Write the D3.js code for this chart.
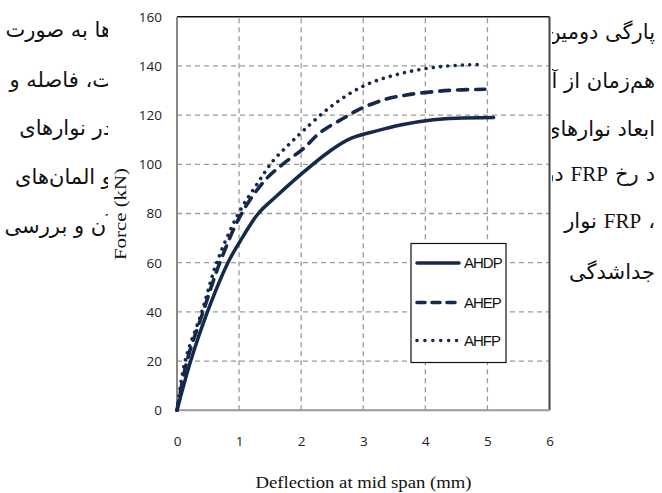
<!DOCTYPE html>
<html><head><meta charset="utf-8">
<script src="https://cdn.jsdelivr.net/npm/d3@7"></script>
<style>
html,body{margin:0;padding:0;background:#fff;}
svg{display:block;}
</style></head>
<body>
<script>
// ---- data ----
const xTicks = [0,1,2,3,4,5,6];
const yTicks = [0,20,40,60,80,100,120,140,160];
const seriesNames = ["AHDP","AHEP","AHFP"];
const AHDP = [[0,0],[0.22,20],[0.49,40],[0.82,60],[1.0,68],[1.31,80],[1.6,87],[2.0,96],[2.47,105.5],[2.8,110.5],[3.2,113.5],[3.6,116],[4.1,118],[4.5,118.7],[5.1,119]];
const AHEP = [[0,0],[0.16,20],[0.42,40],[0.69,60],[1.04,80],[1.42,93.6],[1.7,100],[2.04,106.5],[2.3,112.8],[2.68,118.7],[2.95,122.5],[3.33,126.2],[3.7,128.2],[4.13,129.5],[4.5,130.2],[4.96,130.5]];
const AHFP = [[0,0],[0.13,20],[0.40,40],[0.64,60],[0.99,80],[1.29,92],[1.55,101.5],[1.8,108],[2.04,113.8],[2.47,123.3],[3.0,131.8],[3.59,136.8],[4.24,139.7],[4.86,140.6]];
const xTitle = "Deflection at mid span (mm)";
const yTitle = "Force (kN)";
const leftLines = ["ها به صورت","ت، فاصله و","در نوارهای","و المان‌های","آن و بررسی"];
// right column: fragments listed from right to left
const rightLines = [["پارگی دومین مرحله"],["هم‌زمان از آن"],["ابعاد نوارهای"],["د","رخ","FRP","در"],["،","FRP","نوار"],["جداشدگی"]];

const W=662,H=493;
const svg=d3.select("body").append("svg").attr("width",W).attr("height",H);
const col="#15294a";

// Persian surrounding text
const arFont="'DejaVu Sans', sans-serif";
const latFont="'Liberation Serif', serif";
const leftY=[37,87,135,184,233];
svg.selectAll("text.lt").data(leftLines).join("text").attr("class","lt")
  .attr("x",112).attr("y",(d,i)=>leftY[i]).attr("text-anchor","end")
  .attr("font-family",arFont).attr("font-size",21).attr("fill","#111").text(d=>d);
const rightY=[39,88,136,181,228,279];
rightLines.forEach((frags,i)=>{
  let cx=655;
  frags.forEach(f=>{
    const isLat=/^[A-Za-z]+$/.test(f);
    const t=svg.append("text").attr("x",cx).attr("y",rightY[i]).attr("text-anchor","end")
      .attr("font-family",isLat?latFont:arFont).attr("font-size",isLat?21:21).attr("fill","#111").text(f);
    cx-=t.node().getComputedTextLength()+7;
  });
});

// chart picture background
svg.append("rect").attr("x",108).attr("y",3).attr("width",444).attr("height",H-3).attr("fill","#fff");

const x=d3.scaleLinear().domain([0,6]).range([177,549.5]);
const y=d3.scaleLinear().domain([0,160]).range([410.3,16.7]);

// grid
const g=svg.append("g");
g.selectAll("line.vg").data(xTicks.slice(1,-1)).join("line")
  .attr("x1",d=>x(d)).attr("x2",d=>x(d)).attr("y1",y(0)).attr("y2",y(160))
  .attr("stroke","#9a9a9a").attr("stroke-width",1.3).attr("stroke-dasharray","5,4");
g.selectAll("line.hg").data(yTicks.slice(1,-1)).join("line")
  .attr("x1",x(0)).attr("x2",x(6)).attr("y1",d=>y(d)).attr("y2",d=>y(d))
  .attr("stroke","#9a9a9a").attr("stroke-width",1.3).attr("stroke-dasharray","5,4");

// borders
svg.append("line").attr("x1",x(0)).attr("x2",x(6)).attr("y1",y(160)).attr("y2",y(160)).attr("stroke","#111").attr("stroke-width",1.5);
svg.append("line").attr("x1",x(6)).attr("x2",x(6)).attr("y1",y(160)).attr("y2",y(0)).attr("stroke","#444").attr("stroke-width",2);
svg.append("line").attr("x1",x(0)).attr("x2",x(6)).attr("y1",y(0)).attr("y2",y(0)).attr("stroke","#999").attr("stroke-width",2);
svg.append("line").attr("x1",x(0)).attr("x2",x(0)).attr("y1",y(160)).attr("y2",y(0)).attr("stroke","#888").attr("stroke-width",2);

// axes labels
const tickFont="'Open Sans', sans-serif";
const ax=svg.append("g").attr("transform",`translate(0,${y(0)})`)
  .call(d3.axisBottom(x).tickValues(xTicks).tickSize(0).tickPadding(26).tickFormat(d3.format("d")));
ax.select(".domain").remove();
ax.selectAll("text").attr("font-family",tickFont).attr("font-size",13.5).attr("fill","#222");
const ay=svg.append("g").attr("transform",`translate(${x(0)},0)`)
  .call(d3.axisLeft(y).tickValues(yTicks).tickSize(0).tickPadding(15).tickFormat(d3.format("d")));
ay.select(".domain").remove();
ay.selectAll("text").attr("font-family",tickFont).attr("font-size",13.5).attr("fill","#222");

// titles
svg.append("text").attr("x",363.5).attr("y",488).attr("text-anchor","middle")
  .attr("font-family",latFont).attr("font-size",17).attr("fill","#111")
  .attr("textLength",216).attr("lengthAdjust","spacingAndGlyphs").text(xTitle);
svg.append("text").attr("transform","translate(126,214) rotate(-90)").attr("text-anchor","middle")
  .attr("font-family",latFont).attr("font-size",17).attr("fill","#111")
  .attr("textLength",92).attr("lengthAdjust","spacingAndGlyphs").text(yTitle);

// lines
const line=d3.line().x(d=>x(d[0])).y(d=>y(d[1])).curve(d3.curveCatmullRom.alpha(0.5));
const styles=[
  {w:3.5,dash:null},
  {w:3.6,dash:"10,8"},
  {w:3.6,dash:"0.01,7.3"}
];
const data=[AHDP,AHEP,AHFP];
data.forEach((s,i)=>{
  svg.append("path").attr("d",line(s)).attr("fill","none").attr("stroke",col)
    .attr("stroke-width",styles[i].w).attr("stroke-dasharray",styles[i].dash)
    .attr("stroke-linecap","round").attr("stroke-linejoin","round");
});

// legend
const lg=svg.append("g");
lg.append("rect").attr("x",411).attr("y",243.5).attr("width",95).attr("height",119).attr("fill","#fff").attr("stroke","#111").attr("stroke-width",1.2);
const legY=[263,302.5,340.5];
const legDash=[null,"8,7","0.01,7.9"];
seriesNames.forEach((n,i)=>{
  lg.append("line").attr("x1",417).attr("x2",i==2?457:459).attr("y1",legY[i]).attr("y2",legY[i])
    .attr("stroke",col).attr("stroke-width",styles[i].w).attr("stroke-dasharray",legDash[i]).attr("stroke-linecap","round");
  lg.append("text").attr("x",464).attr("y",legY[i]+5).attr("font-family","'Liberation Sans', Arial, sans-serif")
    .attr("font-size",15).attr("letter-spacing",-1).attr("fill","#111").text(n);
});
</script>
</body></html>
